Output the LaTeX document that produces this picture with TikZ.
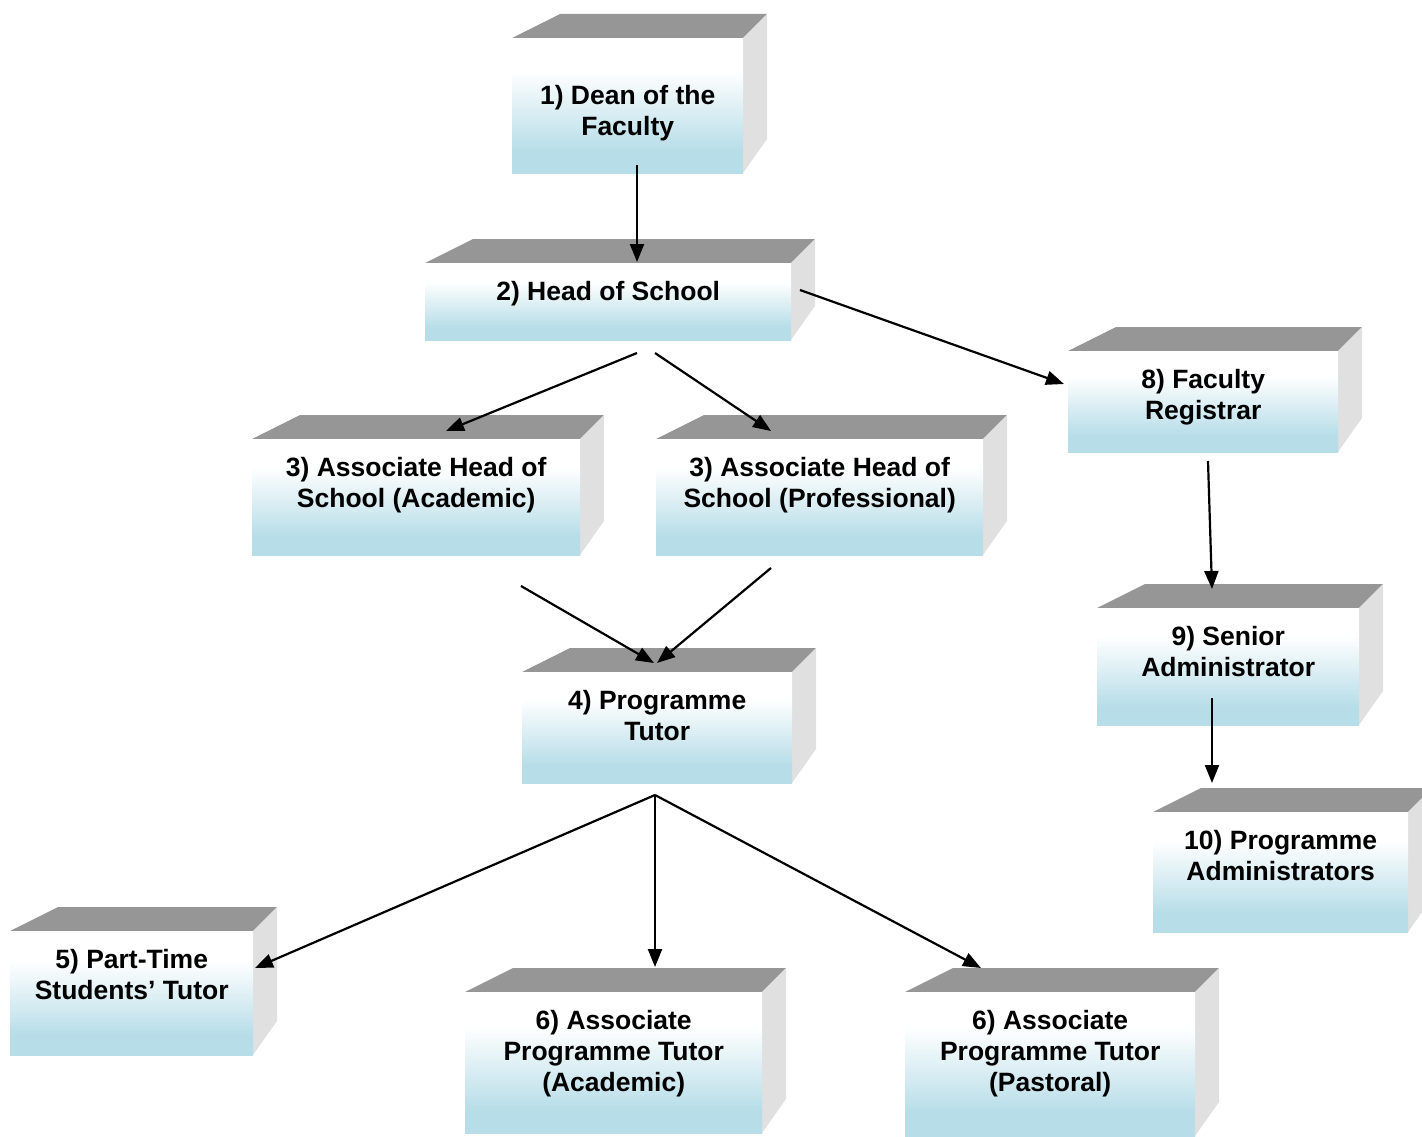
\documentclass[tikz,border=0pt]{standalone}
\usepackage{fontspec}
\setmainfont{Liberation Sans}
\usetikzlibrary{arrows.meta,calc}

\definecolor{boxtop}{RGB}{150,150,150}
\definecolor{boxside}{RGB}{224,224,224}
\definecolor{boxblue}{RGB}{183,221,232}

\pgfdeclareverticalshading{frontshade}{100bp}{color(0bp)=(boxblue); color(33bp)=(boxblue);
  color(63bp)=(white); color(100bp)=(white)}

\tikzset{
  front/.style={inner sep=0pt, anchor=north west, shading=frontshade},
  boxtext/.style={anchor=north, align=center, inner sep=0pt,
                  font=\fontsize{26.5}{31}\selectfont\bfseries},
  arr/.style={line width=2.2pt, -{Triangle[length=18pt,width=14pt]}}
}

% name, left, top, right, bottom, text drop, text
\newcommand{\orgbox}[7]{%
  \fill[boxtop] (#2,#3) -- (#2+48,#3-24) -- (#4+24,#3-24) -- (#4,#3) -- cycle;
  \fill[boxside] (#4,#3) -- (#4+24,#3-24) -- (#4+24,#5-34) -- (#4,#5) -- cycle;
  \node[front, minimum width={(#4-#2)*1pt}, minimum height={(#5-#3)*1pt}] (#1) at (#2,#3) {};
  \node[boxtext] (#1-txt) at ($(#1.north)+(0,#6)$) {#7};
}

\begin{document}
\begin{tikzpicture}[x=1pt,y=-1pt]
  \useasboundingbox (0,0) rectangle (1422,1137);

  \orgbox{dean}{512}{38}{743}{173}{47}{1) Dean of the\\Faculty}
  \orgbox{head}{425}{263}{791}{340}{18}{2) Head of School}
  \orgbox{ahacad}{252}{439}{580}{555}{18}{3) Associate Head of\\School (Academic)}
  \orgbox{ahprof}{656}{439}{983}{555}{18}{3) Associate Head of\\School (Professional)}
  \orgbox{registrar}{1068}{351}{1338}{452}{18}{8) Faculty\\Registrar}
  \orgbox{tutor}{522}{672}{792}{783}{18}{4) Programme\\Tutor}
  \orgbox{senior}{1097}{608}{1359}{725}{18}{9) Senior\\Administrator}
  \orgbox{progadmin}{1153}{812}{1408}{932}{18}{10) Programme\\Administrators}
  \orgbox{parttime}{10}{931}{253}{1055}{18}{5) Part-Time\\Students’ Tutor}
  \orgbox{aptacad}{465}{992}{762}{1133}{18}{6) Associate\\Programme Tutor\\(Academic)}
  \orgbox{aptpast}{905}{992}{1195}{1136}{18}{6) Associate\\Programme Tutor\\(Pastoral)}

  % arrow ends
  \coordinate (dean-out) at (637,165);
  \coordinate (head-in) at (637,262);
  \coordinate (head-outl) at (637,353);
  \coordinate (head-outr) at (655,353);
  \coordinate (head-outx) at (800,290);
  \coordinate (ahacad-in) at (446,431);
  \coordinate (ahprof-in) at (771,431);
  \coordinate (registrar-in) at (1064,384);
  \coordinate (ahacad-out) at (521,586);
  \coordinate (ahprof-out) at (771,568);
  \coordinate (tutor-inl) at (654,663);
  \coordinate (tutor-inr) at (657,663);
  \coordinate (registrar-out) at (1208,461);
  \coordinate (senior-in) at (1212,589);
  \coordinate (senior-out) at (1212,698);
  \coordinate (progadmin-in) at (1212,783);
  \coordinate (tutor-out) at (655,795);
  \coordinate (parttime-in) at (255,968);
  \coordinate (aptacad-in) at (655,967);
  \coordinate (aptpast-in) at (981,968);

  \draw[arr] (dean-out) -- (head-in);
  \draw[arr] (head-outl) -- (ahacad-in);
  \draw[arr] (head-outr) -- (ahprof-in);
  \draw[arr] (head-outx) -- (registrar-in);
  \draw[arr] (ahacad-out) -- (tutor-inl);
  \draw[arr] (ahprof-out) -- (tutor-inr);
  \draw[arr] (registrar-out) -- (senior-in);
  \draw[arr] (senior-out) -- (progadmin-in);
  \draw[arr] (tutor-out) -- (parttime-in);
  \draw[arr] (tutor-out) -- (aptacad-in);
  \draw[arr] (tutor-out) -- (aptpast-in);
\end{tikzpicture}
\end{document}
